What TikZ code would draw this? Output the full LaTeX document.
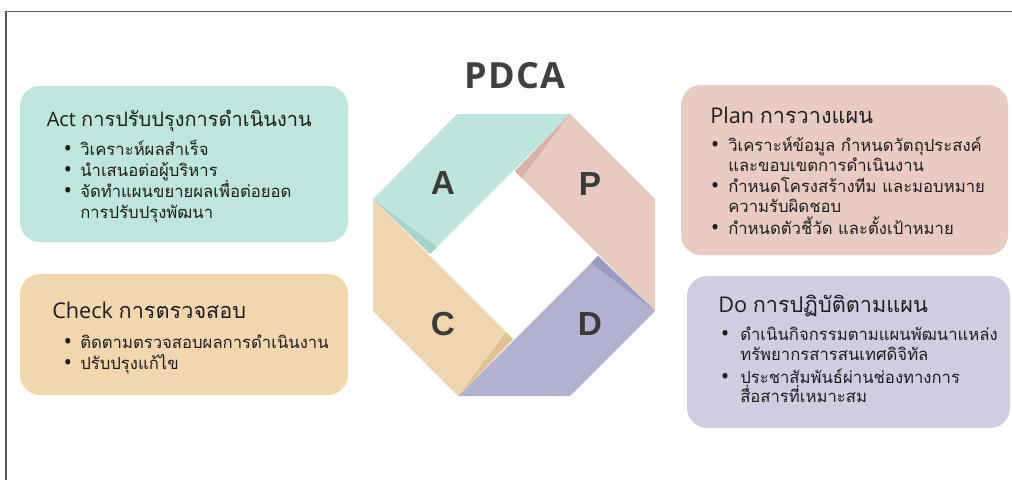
\documentclass[tikz,border=0pt]{standalone}
\usepackage{fontspec}
\setmainfont{Open Sans}
\newfontfamily\thaifont[Script=Thai]{Loma}
\newfontfamily\capfont{Liberation Sans}
\definecolor{acol}{HTML}{BDE5DB}
\definecolor{adark}{HTML}{A5D5C8}
\definecolor{pcol}{HTML}{E8CBC0}
\definecolor{pdark}{HTML}{D8B2A8}
\definecolor{dcol}{HTML}{B2B2D0}
\definecolor{ddark}{HTML}{9B9BC2}
\definecolor{ccol}{HTML}{F0D6AF}
\definecolor{cdark}{HTML}{E0C394}
\definecolor{actbox}{HTML}{BEE6DC}
\definecolor{checkbox}{HTML}{F1D6B0}
\definecolor{planbox}{HTML}{E8CCC2}
\definecolor{dobox}{HTML}{CFCDE1}
\definecolor{ink}{HTML}{1E1E1E}
\definecolor{lettercol}{HTML}{3A3A3A}
\definecolor{headcol}{HTML}{404040}
\tikzset{
    card/.style={rectangle, rounded corners=15pt, inner sep=0pt}
}
\tikzset{
    cardtitle/.style={anchor=base west, inner sep=0pt, text=ink,
    	font=\fontsize{16.25}{20}\selectfont},
    bodytext/.style={anchor=base west, inner sep=0pt, text=ink,
    	font=\fontsize{12.5}{15}\thaifont},
    dot/.style={anchor=base, inner sep=0pt, text=ink,
    	font=\fontsize{17}{15}\selectfont}
}
\tikzset{
    bigletter/.style={text=lettercol, font=\capfont\bfseries\fontsize{25}{28}\selectfont}
}

\begin{document}
\begin{tikzpicture}[x=0.75pt, y=-0.75pt]
  \useasboundingbox (0,0) rectangle (1012,480);
  \draw[black!65, line width=0.9pt] (6,480) -- (6,11.5) -- (1012,11.5);

  % the octagon
  \fill[acol] (373,199) -- (457,114) -- (570,114) -- (430,254) -- cycle;
  \fill[pcol] (570,114) -- (655,199) -- (655,311) -- (515,171) -- cycle;
  \fill[dcol] (655,311) -- (570,396) -- (458,396) -- (598,256) -- cycle;
  \fill[ccol] (458,396) -- (373,311) -- (373,199) -- (513,339) -- cycle;
  \fill[adark] (373,199) -- (430,254) -- (437,247) -- cycle;
  \fill[pdark] (570,114) -- (515,171) -- (522,178) -- cycle;
  \fill[ddark] (655,311) -- (598,256) -- (591,263) -- cycle;
  \fill[cdark] (458,396) -- (513,339) -- (506,332) -- cycle;

  \node (la) [bigletter] at (443,183) {A};
  \node (lp) [bigletter] at (590,184) {P};
  \node (lc) [bigletter] at (443,324) {C};
  \node (ld) [bigletter] at (590,324) {D};

  \node (head) [anchor=base, text=headcol,
    font=\bfseries\fontsize{27}{32}\selectfont\addfontfeature{LetterSpace=4}]
    at (515,88) {PDCA};

  % Act
  \node (act) [card, fill=actbox, minimum width=246pt, minimum height=117pt] at (184,164) {};
  \node (actt) [cardtitle, font=\fontsize{15}{18}\selectfont] at (46.5,126)
    {Act {\thaifont การปรับปรุงการดำเนินงาน}};
  \node (actb1) [dot] at (68,156) {\textbullet};
  \node (act1) [bodytext] at (80,155) {วิเคราะห์ผลสำเร็จ};
  \node (actb2) [dot] at (68,177) {\textbullet};
  \node (act2) [bodytext] at (80,176) {นำเสนอต่อผู้บริหาร};
  \node (actb3) [dot] at (68,198) {\textbullet};
  \node (act3) [bodytext] at (80,197) {จัดทำแผนขยายผลเพื่อต่อยอด};
  \node (act4) [bodytext] at (80,218) {การปรับปรุงพัฒนา};

  % Check
  \node (chk) [card, fill=checkbox, minimum width=246pt, minimum height=90.75pt] at (184,334.5) {};
  \node (chkt) [cardtitle] at (52,318) {Check {\thaifont การตรวจสอบ}};
  \node (chkb1) [dot] at (68,349) {\textbullet};
  \node (chk1) [bodytext] at (80,348) {ติดตามตรวจสอบผลการดำเนินงาน};
  \node (chkb2) [dot] at (68,370) {\textbullet};
  \node (chk2) [bodytext] at (80,369) {ปรับปรุงแก้ไข};

  % Plan
  \node (pln) [card, fill=planbox, minimum width=245.25pt, minimum height=127.5pt] at (844.5,170) {};
  \node (plnt) [cardtitle] at (710,123) {Plan {\thaifont การวางแผน}};
  \node (plnb1) [dot] at (715,152) {\textbullet};
  \node (pln1) [bodytext] at (728,151) {วิเคราะห์ข้อมูล กำหนดวัตถุประสงค์};
  \node (pln2) [bodytext] at (728,171) {และขอบเขตการดำเนินงาน};
  \node (plnb3) [dot] at (715,193) {\textbullet};
  \node (pln3) [bodytext] at (728,192) {กำหนดโครงสร้างทีม และมอบหมาย};
  \node (pln4) [bodytext] at (728,212) {ความรับผิดชอบ};
  \node (plnb5) [dot] at (715,235) {\textbullet};
  \node (pln5) [bodytext] at (728,234) {กำหนดตัวชี้วัด และตั้งเป้าหมาย};

  % Do
  \node (do) [card, fill=dobox, minimum width=242.25pt, minimum height=114pt] at (848.5,352) {};
  \node (dot) [cardtitle] at (718,312) {Do {\thaifont การปฏิบัติตามแผน}};
  \node (dob1) [dot] at (725,341) {\textbullet};
  \node (do1) [bodytext] at (740,340) {ดำเนินกิจกรรมตามแผนพัฒนาแหล่ง};
  \node (do2) [bodytext] at (740,360) {ทรัพยากรสารสนเทศดิจิทัล};
  \node (dob3) [dot] at (725,384) {\textbullet};
  \node (do3) [bodytext] at (740,383) {ประชาสัมพันธ์ผ่านช่องทางการ};
  \node (do4) [bodytext] at (740,402) {สื่อสารที่เหมาะสม};
\end{tikzpicture}
\end{document}
